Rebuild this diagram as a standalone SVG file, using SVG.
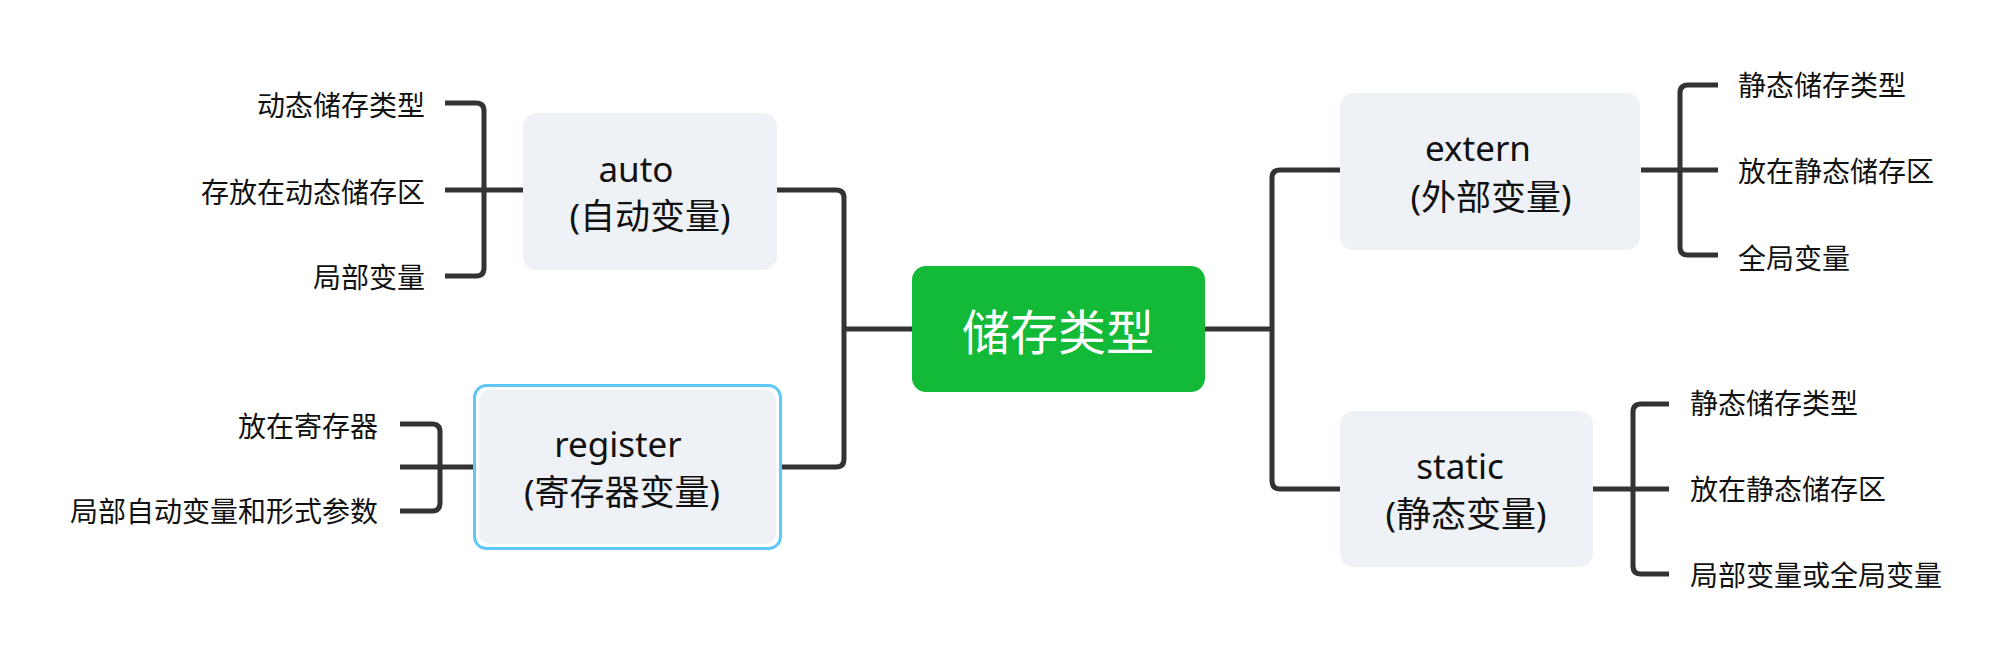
<svg xmlns="http://www.w3.org/2000/svg" width="2014" height="660" viewBox="0 0 2014 660">
<style>
.bg{fill:#ffffff}
.conn{fill:none;stroke:#333333;stroke-width:5;stroke-linecap:butt;stroke-linejoin:round}
.sub{fill:#EEF1F5}
.t{font-family:"Noto Sans","Noto Sans CJK SC",sans-serif;fill:#111111}
.leaf{font-size:28px}
.subt{font-size:35px;text-anchor:middle}
.root{font-size:48px;fill:#ffffff;text-anchor:middle}
</style>
<rect class="bg" x="0" y="0" width="2014" height="660"/>
<g id="connectors">
<path class="conn" d="M777 190 H836 Q844 190 844 198 V459 Q844 467 836 467 H782"/>
<path class="conn" d="M844 329 H912"/>
<path class="conn" d="M1205 329 H1272"/>
<path class="conn" d="M1340 170 H1280 Q1272 170 1272 178 V481 Q1272 489 1280 489 H1340"/>
<path class="conn" d="M445 103 H476 Q484 103 484 111 V268 Q484 276 476 276 H445"/>
<path class="conn" d="M445 190 H523"/>
<path class="conn" d="M400 424 H432 Q440 424 440 432 V503 Q440 511 432 511 H400"/>
<path class="conn" d="M400 467 H474"/>
<path class="conn" d="M1718 85 H1688 Q1680 85 1680 93 V247 Q1680 255 1688 255 H1718"/>
<path class="conn" d="M1641 170 H1718"/>
<path class="conn" d="M1669 404 H1641 Q1633 404 1633 412 V566 Q1633 574 1641 574 H1669"/>
<path class="conn" d="M1593 489 H1669"/>
</g>
<g id="root">
<rect x="912" y="266" width="293" height="126" rx="14" fill="#13BA38"/>
<text class="t root" x="1058" y="350">储存类型</text>
</g>
<g id="auto">
<rect class="sub" x="523" y="113" width="254" height="157" rx="14"/>
<text class="t subt" x="636" y="182">auto</text>
<text class="t subt" x="650" y="229">(自动变量)</text>
</g>
<g id="register">
<rect x="474.5" y="385.5" width="306" height="163" rx="12" fill="#ffffff" stroke="#5FC8F8" stroke-width="3"/>
<rect class="sub" x="479" y="390" width="297" height="154" rx="10"/>
<text class="t subt" x="618" y="457">register</text>
<text class="t subt" x="622" y="505">(寄存器变量)</text>
</g>
<g id="extern">
<rect class="sub" x="1340" y="93" width="300" height="157" rx="14"/>
<text class="t subt" x="1478" y="161">extern</text>
<text class="t subt" x="1491" y="210">(外部变量)</text>
</g>
<g id="static">
<rect class="sub" x="1340" y="411" width="253" height="156" rx="14"/>
<text class="t subt" x="1460" y="479">static</text>
<text class="t subt" x="1466" y="527">(静态变量)</text>
</g>
<g id="auto-leaves">
<text class="t leaf" x="425" y="116" text-anchor="end">动态储存类型</text>
<text class="t leaf" x="425" y="203" text-anchor="end">存放在动态储存区</text>
<text class="t leaf" x="425" y="288" text-anchor="end">局部变量</text>
</g>
<g id="register-leaves">
<text class="t leaf" x="378" y="437" text-anchor="end">放在寄存器</text>
<text class="t leaf" x="378" y="522" text-anchor="end">局部自动变量和形式参数</text>
</g>
<g id="extern-leaves">
<text class="t leaf" x="1738" y="96">静态储存类型</text>
<text class="t leaf" x="1738" y="182">放在静态储存区</text>
<text class="t leaf" x="1738" y="269">全局变量</text>
</g>
<g id="static-leaves">
<text class="t leaf" x="1690" y="414">静态储存类型</text>
<text class="t leaf" x="1690" y="500">放在静态储存区</text>
<text class="t leaf" x="1690" y="586">局部变量或全局变量</text>
</g>
</svg>
